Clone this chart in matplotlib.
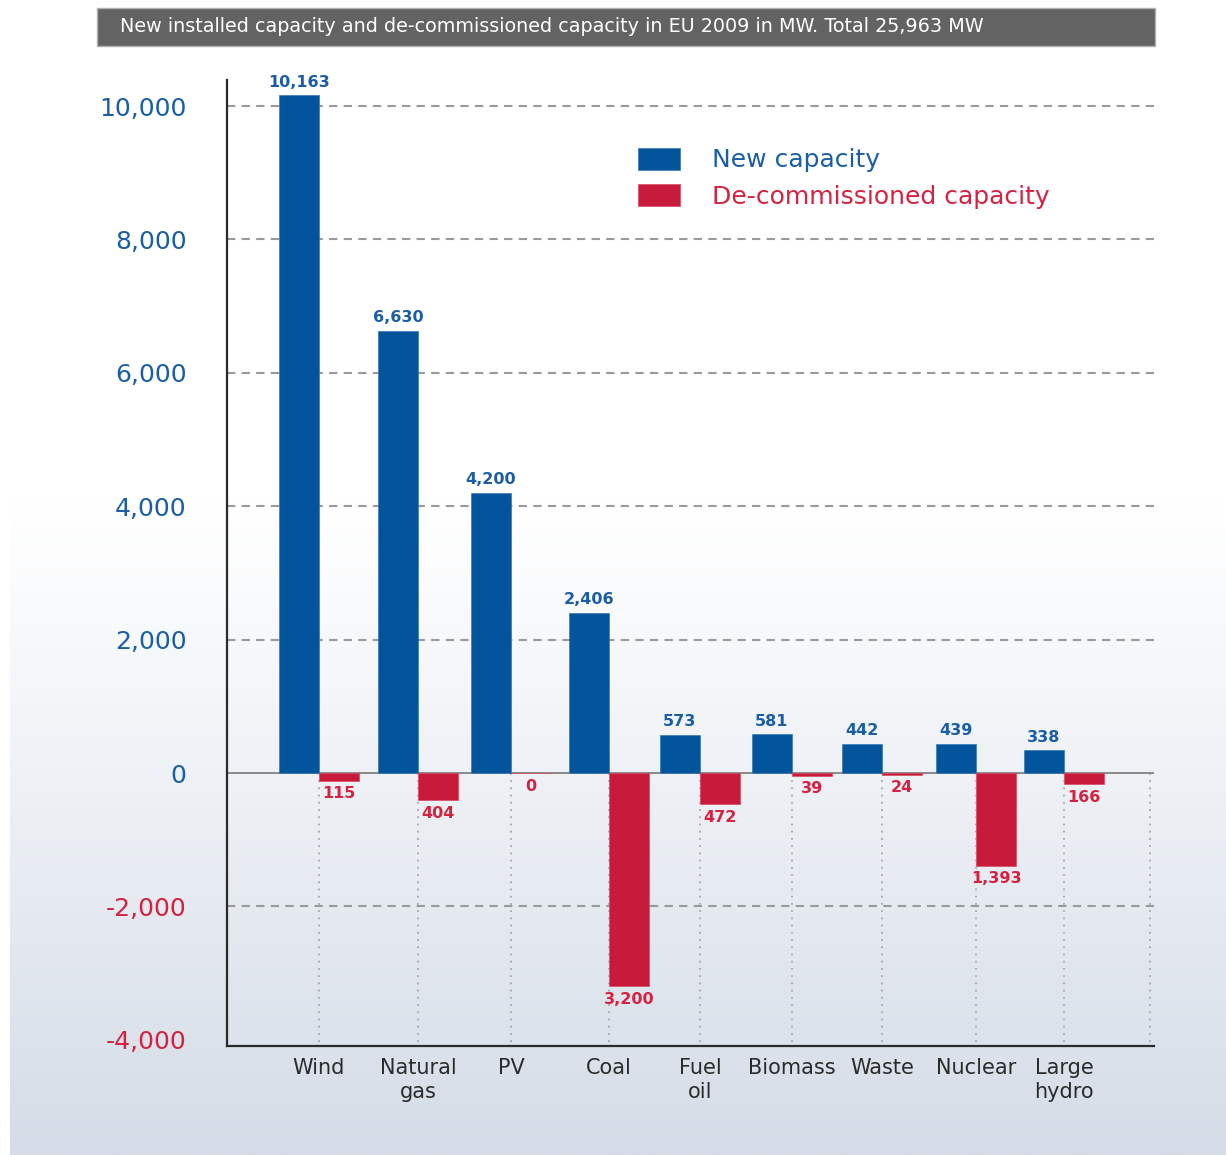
import numpy as np
import matplotlib
matplotlib.use("Agg")
import matplotlib.pyplot as plt
from matplotlib.patches import Rectangle, Patch

# capacity figures, MW
categories = ["Wind", "Natural\ngas", "PV", "Coal", "Fuel\noil", "Biomass",
              "Waste", "Nuclear", "Large\nhydro"]
new_capacity = [10163, 6630, 4200, 2406, 573, 581, 442, 439, 338]
decommissioned = [115, 404, 0, 3200, 472, 39, 24, 1393, 166]
yticks = [-4000, -2000, 0, 2000, 4000, 6000, 8000, 10000]

# group centres along the x axis (slightly uneven spacing)
xpos = np.array([0, 1.063, 2.062, 3.115, 4.092, 5.08, 6.047, 7.057, 8.002])

BLUE = "#02559a"
RED = "#c81a3a"
BLUE_TXT = "#1b5ea6"
RED_TXT = "#d42240"

W, H = 1226, 1155
fig = plt.figure(figsize=(W / 100, H / 100), dpi=100, facecolor="white")

# soft blue-grey wash in the lower part of the page
bg = fig.add_axes([10 / W, 0, 1 - 10 / W, 0.57], zorder=-10)
grad = np.linspace(0, 1, 256).reshape(-1, 1)
top = np.array([1.0, 1.0, 1.0])
bot = np.array([0xd4, 0xdc, 0xe7]) / 255
img = top + (bot - top) * grad[:, :, None] ** 1.1
bg.imshow(img, aspect="auto", extent=[0, 1, 0, 1], origin="upper")
bg.axis("off")

# title bar
fig.patches.append(Rectangle((97 / W, 1 - 46 / H), (1155 - 97) / W, 38 / H,
                             transform=fig.transFigure, facecolor="#636363",
                             edgecolor="#b0b0b0", lw=1))
fig.text(120 / W, 1 - 27 / H,
         "New installed capacity and de-commissioned capacity in EU 2009 in MW. Total 25,963 MW",
         color="white", fontsize=13.8, va="center", ha="left",
         family=["Liberation Sans Narrow", "DejaVu Sans Condensed", "DejaVu Sans"])

ax = fig.add_axes([227 / W, 1 - 1046 / H, (1154 - 227) / W, (1046 - 80) / H])
ax.set_facecolor("none")

bw = 0.43
ax.bar(xpos - bw / 2, new_capacity, width=bw, color=BLUE, zorder=3,
       edgecolor="#3a78b8", lw=0.5)
ax.bar(xpos + bw / 2, [-v for v in decommissioned], width=bw, color=RED, zorder=3,
       edgecolor="#d84a62", lw=0.5)

ax.set_xlim(-0.988, 8.969)
ax.set_ylim(-4093, 10390)

# value labels
for xi, v in zip(xpos, new_capacity):
    ax.annotate(f"{v:,}", (xi - bw / 2, v), xytext=(0, 4), textcoords="offset points",
                ha="center", va="bottom", color=BLUE_TXT, fontsize=11.5,
                fontweight="bold", zorder=4)
for xi, v in zip(xpos, decommissioned):
    ax.annotate(f"{v:,}", (xi + bw / 2, -v), xytext=(0, -4), textcoords="offset points",
                ha="center", va="top", color=RED_TXT, fontsize=11.5,
                fontweight="bold", zorder=4)

# gridlines
for yv in [10000, 8000, 6000, 4000, 2000, -2000]:
    ax.axhline(yv, color="#9a9a9a", lw=1.5, ls=(0, (4, 3)), zorder=1)
ax.axhline(0, color="#8a8a8a", lw=1.4, zorder=2)
for xv in list(xpos) + [8.93]:
    ax.plot([xv, xv], [0, -4093], color="#a8a8a8", lw=1.3, ls=(0, (1, 3)), zorder=1)

# axes styling
for s in ["top", "right"]:
    ax.spines[s].set_visible(False)
ax.spines["left"].set_color("#2a2a2a")
ax.spines["bottom"].set_color("#2a2a2a")
ax.spines["left"].set_linewidth(1.6)
ax.spines["bottom"].set_linewidth(1.6)

ax.set_yticks(yticks)
ax.set_yticklabels([f"{v:,}" for v in yticks], fontsize=18)
for lbl, v in zip(ax.get_yticklabels(), yticks):
    lbl.set_color(RED_TXT if v < 0 else BLUE_TXT)
ax.tick_params(axis="y", length=0, pad=29)

ax.set_xticks(xpos)
ax.set_xticklabels(categories, fontsize=15, color="#2b2b2b", linespacing=1.2)
ax.tick_params(axis="x", length=0, pad=9)

handles = [Patch(facecolor=BLUE, edgecolor="#3a78b8", lw=0.5),
           Patch(facecolor=RED, edgecolor="#d84a62", lw=0.5)]
ax.legend(handles, ["New capacity", "De-commissioned capacity"],
          loc="upper left", bbox_to_anchor=(0.443, 0.9296), frameon=False,
          fontsize=18, labelcolor=[BLUE_TXT, RED_TXT], borderpad=0,
          borderaxespad=0, handlelength=1.68, handleheight=0.96,
          handletextpad=1.28, labelspacing=0.48)

fig.savefig("out.png", dpi=100, facecolor="white")
